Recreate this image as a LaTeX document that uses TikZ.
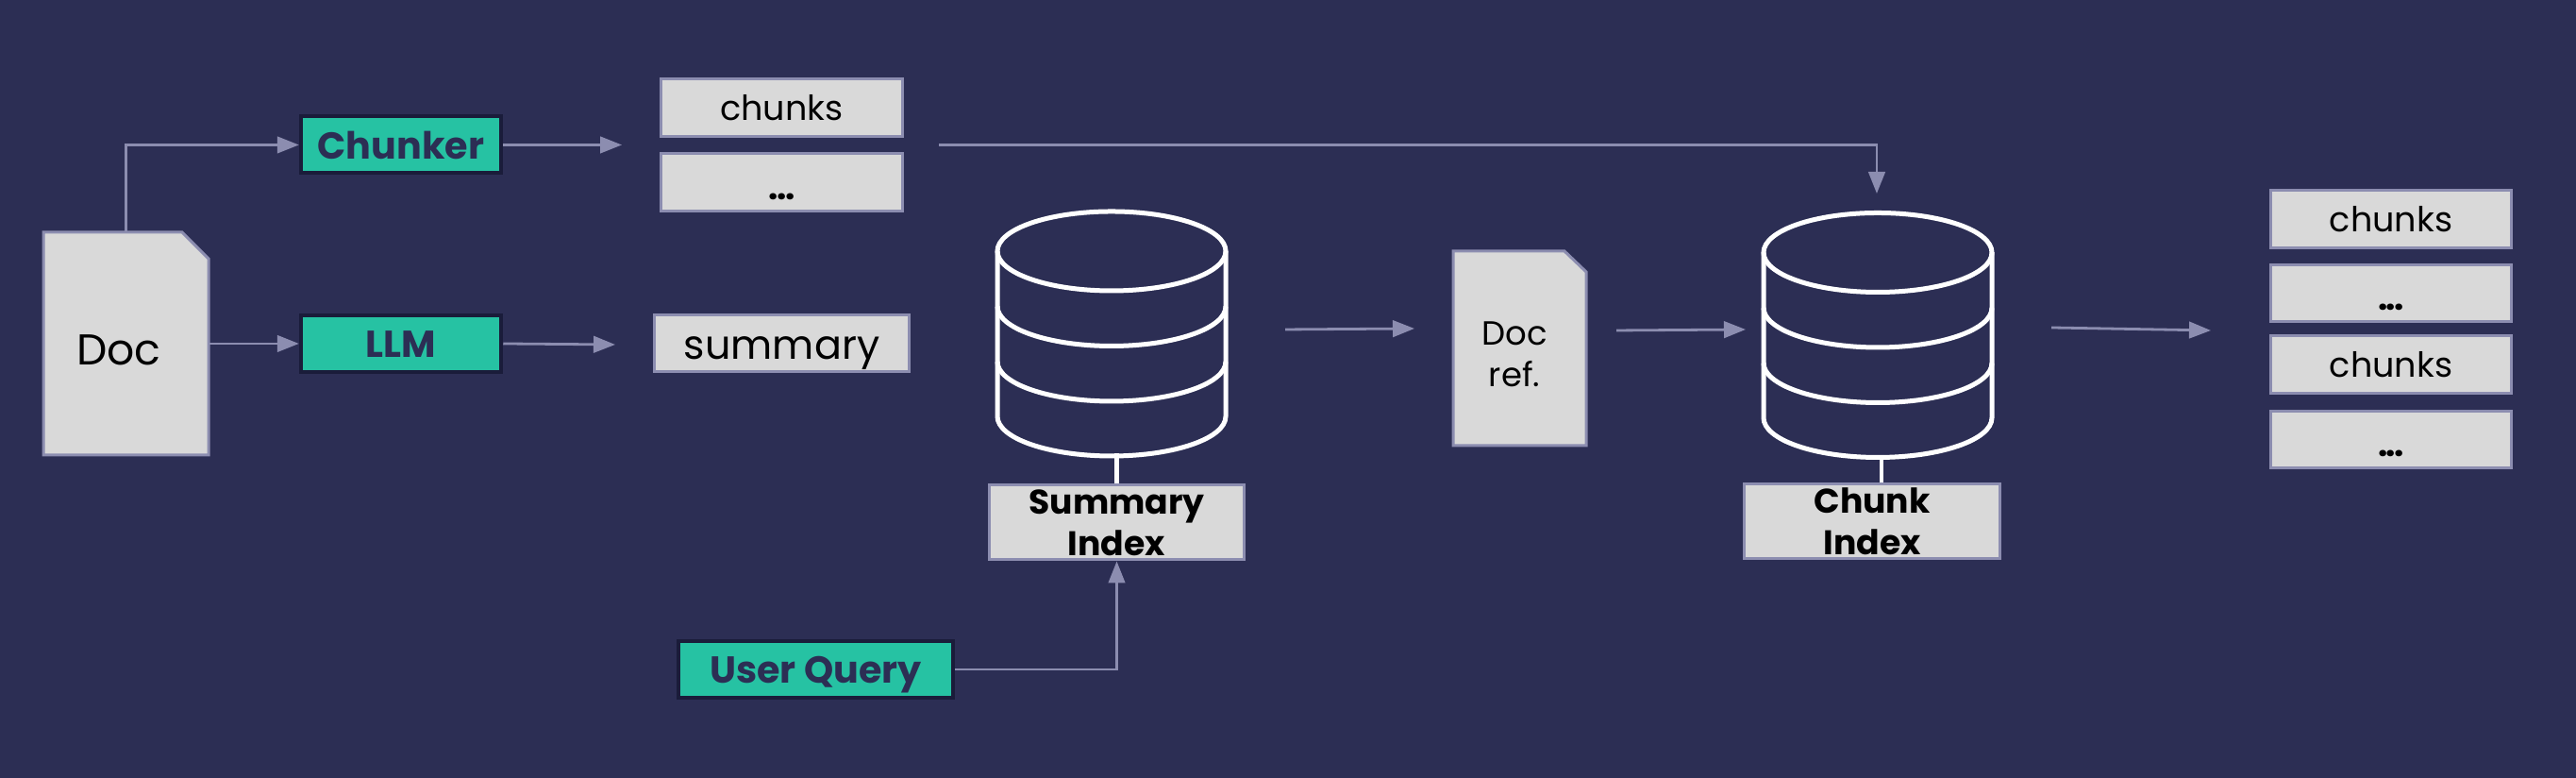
\documentclass[tikz,border=0pt]{standalone}
\usepackage{fontspec}
\setmainfont{Poppins}
\usetikzlibrary{arrows.meta}
\definecolor{pagebg}{RGB}{44,46,84}
\definecolor{teal}{RGB}{38,194,163}
\definecolor{navy}{RGB}{26,28,58}
\definecolor{greybox}{RGB}{217,217,217}
\definecolor{edge}{RGB}{140,141,176}
\newcommand\tightdots{\textbf{.\kern-0.04em.\kern-0.04em.}}
\tikzset{
  box/.style={draw=edge,fill=greybox,line width=0.03cm,inner sep=0pt,text=black,
    minimum width=2.555cm,minimum height=0.61cm,font=\fontsize{10.4pt}{12.5pt}\selectfont,
    text height=0.27cm,text depth=0cm},
  dotsbox/.style={box,text height=0.37cm},
  indexbox/.style={box,minimum width=2.695cm,minimum height=0.79cm,align=center,
    font=\fontsize{10.3pt}{12.5pt}\selectfont\bfseries,text height=,text depth=},
  tool/.style={draw=navy,fill=teal,line width=0.04cm,inner sep=0pt,text=pagebg,
    minimum width=2.125cm,minimum height=0.60cm,font=\fontsize{11.3pt}{13pt}\selectfont\bfseries,
    text height=0.30cm,text depth=0cm},
  sheet/.style={draw=edge,fill=greybox,line width=0.03cm},
  anchorbox/.style={inner sep=0pt},
  link/.style={draw=edge,line width=0.028cm,-{Triangle[length=0.23cm,width=0.175cm]}},
  barrel/.style={draw=white,line width=0.05cm},
}
\begin{document}
\begin{tikzpicture}
  \fill[pagebg] (0,0) rectangle (27.3,8.24);

  % document and the two steps
  \filldraw[sheet] (0.46,5.78)--(1.93,5.78)--(2.21,5.50)--(2.21,3.42)--(0.46,3.42)--cycle;
  \node[anchorbox,minimum width=1.75cm,minimum height=2.36cm] (doc) at (1.335,4.60) {};
  \node[anchor=base,font=\fontsize{13pt}{14pt}\selectfont] (doclabel) at (1.26,4.37) {Doc};
  \node[tool] (chunker) at (4.25,6.705) {Chunker};
  \node[tool] (llm) at (4.25,4.60) {LLM};
  \node[tool,minimum width=2.915cm] (query) at (8.645,1.15) {User Query};

  \node[box] (chunksa) at (8.285,7.095) {chunks};
  \node[dotsbox] (dotsa) at (8.285,6.31) {\tightdots};
  \node[box,minimum width=2.695cm,minimum height=0.60cm,text height=0.33cm,
    font=\fontsize{12.2pt}{15pt}\selectfont] (summary) at (8.285,4.60) {summary};

  % the two stores
  \foreach \dbx/\dby in {11.78/5.58,19.90/5.565} {
    \draw[barrel] (\dbx,\dby) ellipse (1.21 and 0.42);
    \draw[barrel] (\dbx-1.21,\dby) -- (\dbx-1.21,\dby-1.75) arc (180:360:1.21 and 0.42) -- (\dbx+1.21,\dby);
    \draw[barrel] (\dbx-1.21,\dby-0.585) arc (180:360:1.21 and 0.42);
    \draw[barrel] (\dbx-1.21,\dby-1.17) arc (180:360:1.21 and 0.42);
  }
  \node[indexbox] (sumindex) at (11.835,2.705) {Summary\\Index};
  \node[indexbox,minimum width=2.705cm] (chunkindex) at (19.84,2.715) {Chunk\\Index};
  \coordinate (sumbase) at (11.83,3.44);
  \coordinate (chunkbase) at (19.94,3.42);
  \draw[barrel] (sumbase) -- (sumbase |- sumindex.north);
  \draw[barrel,line width=0.04cm] (chunkbase) -- (chunkbase |- chunkindex.north);

  \filldraw[sheet] (15.40,5.58)--(16.58,5.58)--(16.81,5.36)--(16.81,3.52)--(15.40,3.52)--cycle;
  \node[anchorbox,minimum width=1.41cm,minimum height=2.06cm] (docref) at (16.105,4.55) {};
  \node[align=center,font=\fontsize{10.1pt}{12.5pt}\selectfont] (docreflabel) at (16.05,4.49) {Doc\\ref.};

  % result
  \node[box,minimum width=2.545cm,minimum height=0.605cm] (chunksb) at (25.34,5.92) {chunks};
  \node[dotsbox,minimum width=2.545cm,minimum height=0.605cm] (dotsb) at (25.34,5.135) {\tightdots};
  \node[box,minimum width=2.545cm,minimum height=0.605cm] (chunksc) at (25.34,4.38) {chunks};
  \node[dotsbox,minimum width=2.545cm,minimum height=0.605cm] (dotsc) at (25.34,3.585) {\tightdots};

  % free arrow ends
  \coordinate (chunksin) at (6.59,6.705);
  \coordinate (summaryin) at (6.52,4.59);
  \coordinate (chunksout) at (9.95,6.705);
  \coordinate (chunktop) at (19.89,6.19);
  \coordinate (sumout) at (13.62,4.75);
  \coordinate (docrefin) at (14.99,4.76);
  \coordinate (docrefout) at (17.13,4.74);
  \coordinate (chunkin) at (18.50,4.75);
  \coordinate (chunkout) at (21.74,4.77);
  \coordinate (resultin) at (23.43,4.74);

  \draw[link] (doc.north) |- (chunker.west);
  \draw[link] (doc.east) -- (llm.west);
  \draw[link] (chunker.east) -- (chunksin);
  \draw[link] (llm.east) -- (summaryin);
  \draw[link] (chunksout) -| (chunktop);
  \draw[link] (query.east) -| (sumindex.south);
  \draw[link] (sumout) -- (docrefin);
  \draw[link] (docrefout) -- (chunkin);
  \draw[link] (chunkout) -- (resultin);
\end{tikzpicture}
\end{document}
